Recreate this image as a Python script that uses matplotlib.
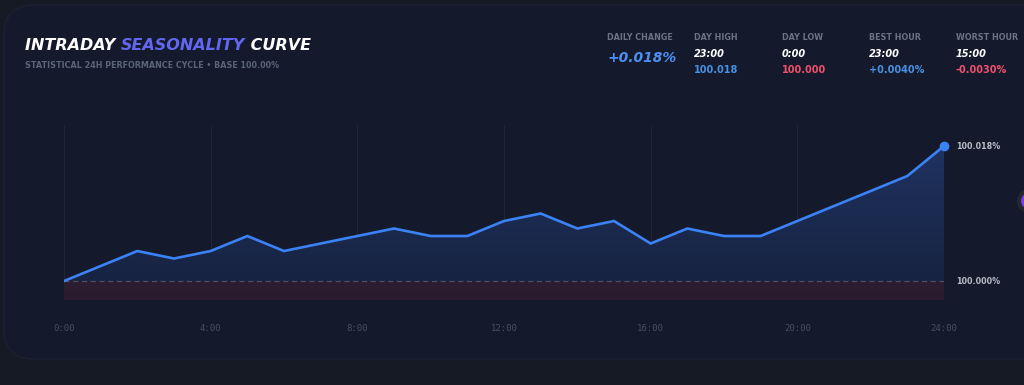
import numpy as np
import matplotlib
matplotlib.use("Agg")
import matplotlib.pyplot as plt
from matplotlib.patches import FancyBboxPatch, Circle
from matplotlib.colors import LinearSegmentedColormap

# data
hours = list(range(25))
values = [100.000, 100.002, 100.004, 100.003, 100.004, 100.006, 100.004, 100.005,
          100.006, 100.007, 100.006, 100.006, 100.008, 100.009, 100.007, 100.008,
          100.005, 100.007, 100.006, 100.006, 100.008, 100.010, 100.012, 100.014,
          100.018]
base = 100.000
tick_hours = [0, 4, 8, 12, 16, 20, 24]
tick_labels = ["0:00", "4:00", "8:00", "12:00", "16:00", "20:00", "24:00"]

stat_titles = ["DAILY CHANGE", "DAY HIGH", "DAY LOW", "BEST HOUR", "WORST HOUR"]
stat_times = [None, "23:00", "0:00", "23:00", "15:00"]
stat_values = ["+0.018%", "100.018", "100.000", "+0.0040%", "-0.0030%"]
stat_colors = ["#4c8ff5", "#4a90e2", "#f0506e", "#4a90e2", "#f0506e"]

W, H = 1024, 385
fig = plt.figure(figsize=(W / 100, H / 100), dpi=100)
fig.patch.set_facecolor("#161a24")

# card background
bg = fig.add_axes([0, 0, 1, 1])
bg.set_xlim(0, W)
bg.set_ylim(H, 0)
bg.axis("off")
card = FancyBboxPatch((4, 5), 1060, 354, boxstyle="round,pad=0,rounding_size=30",
                      fc="#141a2b", ec="#1b2133", lw=1)
bg.add_patch(card)
bg.add_patch(Circle((1029, 201), 12, fc="#26262e", ec="none"))
bg.add_patch(Circle((1029, 201), 8, fc="#7c3aed", ec="none"))

# title
r = fig.canvas.get_renderer()
tfont = dict(fontsize=11.5, fontweight="heavy", fontstyle="italic", family="DejaVu Sans")
x = 25
for piece, col in [("INTRADAY ", "white"), ("SEASONALITY", "#6366f1"), (" CURVE", "white")]:
    t = bg.text(x, 45, piece, color=col, va="center", ha="left", **tfont)
    bb = t.get_window_extent(renderer=r)
    x += bb.width
bg.text(25, 66, "STATISTICAL 24H PERFORMANCE CYCLE \u2022 BASE 100.00%", color="#5b6478",
        fontsize=5.8, fontweight="bold", va="center", ha="left")

# stats
cols_x = [607, 694, 782, 869, 956]
for i, cx in enumerate(cols_x):
    bg.text(cx, 37, stat_titles[i], color="#6b7385", fontsize=5.8, fontweight="bold",
            va="center", ha="left")
    if stat_times[i] is None:
        bg.text(cx + 1, 58, stat_values[i], color=stat_colors[i], fontsize=10,
                fontweight="bold", fontstyle="italic", va="center", ha="left")
    else:
        bg.text(cx, 54, stat_times[i], color="white", fontsize=7, fontweight="heavy",
                fontstyle="italic", va="center", ha="left")
        bg.text(cx, 70, stat_values[i], color=stat_colors[i], fontsize=7,
                fontweight="bold", va="center", ha="left")

# chart
ax = fig.add_axes([64 / W, (H - 300) / H, 880 / W, 175 / H])
ax.set_facecolor("none")
ymin, ymax = base - 0.00253, base + 0.0208
ax.set_xlim(0, 24)
ax.set_ylim(ymin, ymax)
for s in ax.spines.values():
    s.set_visible(False)
ax.set_yticks([])
ax.set_xticks(tick_hours)
ax.set_xticklabels(tick_labels, family="DejaVu Sans Mono", fontsize=6.5, color="#474e5f")
ax.tick_params(axis="x", length=0, pad=17)
for h in tick_hours[:-1]:
    ax.axvline(h, color="#1f2536", lw=0.8, zorder=0)

# blue gradient under curve
poly = ax.fill_between(hours, values, base, color="none", lw=0)
grad = np.linspace(0, 1, 256).reshape(-1, 1)
bcm = LinearSegmentedColormap.from_list("b", ["#172341", "#1f3260"])
im = ax.imshow(grad, cmap=bcm, aspect="auto", origin="lower",
               extent=[0, 24, base, max(values)], zorder=1)
im.set_clip_path(poly.get_paths()[0], transform=ax.transData)

# red strip below baseline
rcm = LinearSegmentedColormap.from_list("r", ["#2a1c2e", "#2c1d30"])
ax.imshow(grad, cmap=rcm, aspect="auto", origin="lower",
          extent=[0, 24, ymin, base], zorder=1)

ax.axhline(base, color="#4a5062", lw=0.9, ls=(0, (4, 3)), zorder=2)
ax.plot(hours, values, color="#3b82f6", lw=1.9, zorder=3, solid_joinstyle="miter")
ax.plot(hours[-1], values[-1], "o", color="#3b82f6", ms=6, zorder=4, clip_on=False)

# right-hand value labels
ax.text(24.33, values[-1], "%.3f%%" % values[-1], color="#b8bcc6", fontsize=5.8,
        fontweight="bold", va="center", ha="left")
ax.text(24.33, base, "%.3f%%" % base, color="#b8bcc6", fontsize=5.8,
        fontweight="bold", va="center", ha="left")

fig.savefig("out.png", dpi=100, facecolor=fig.get_facecolor())
